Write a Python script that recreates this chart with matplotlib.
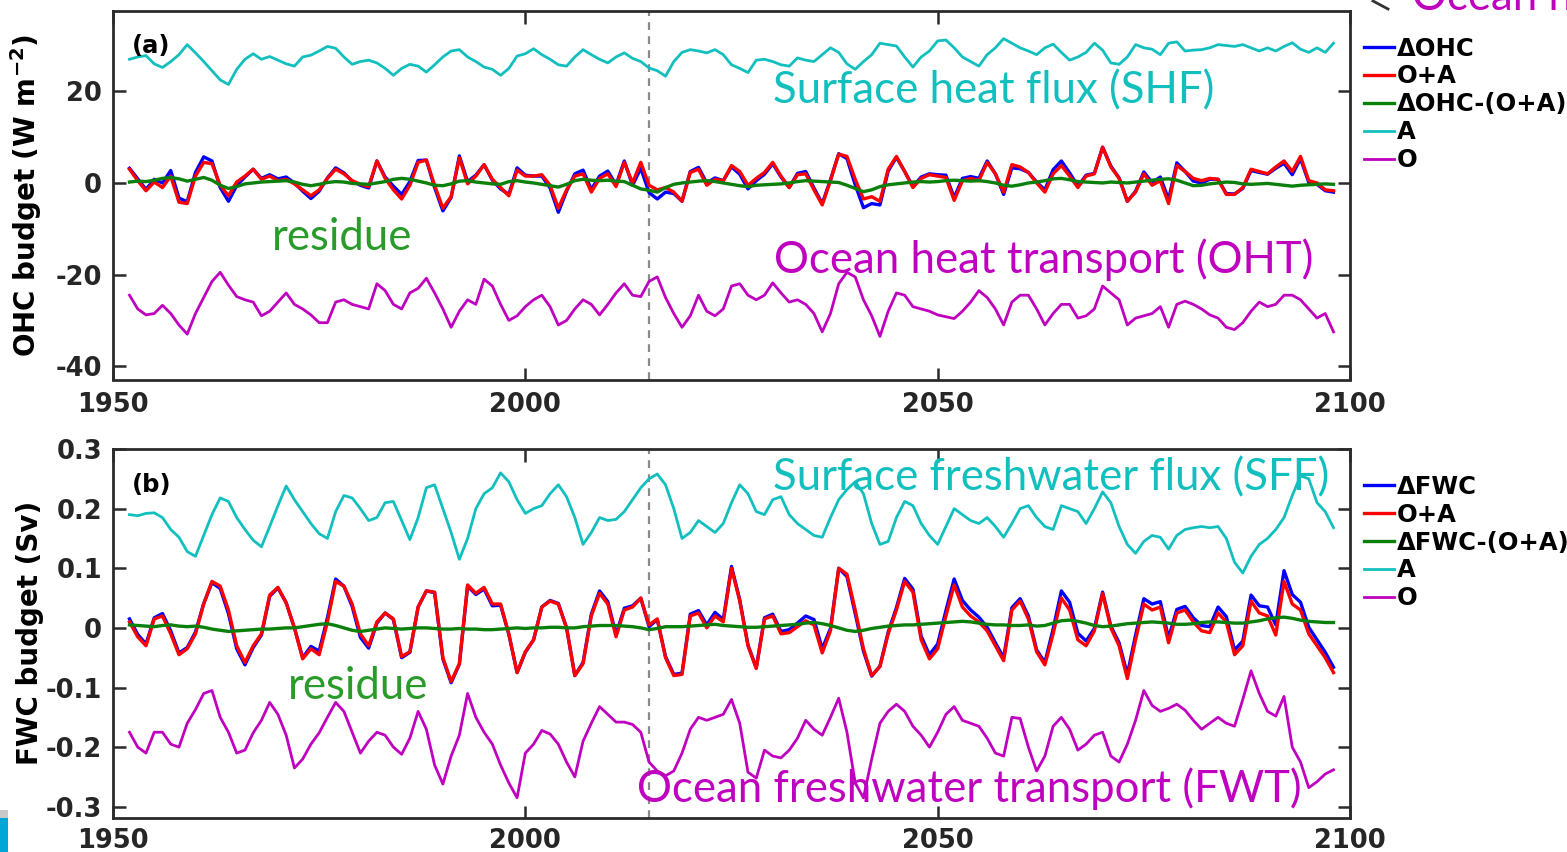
import numpy as np
import matplotlib
matplotlib.use('Agg')
import matplotlib.pyplot as plt
from matplotlib.lines import Line2D
from matplotlib.patches import Rectangle

# ---------------- data (annual values, first year = FIRST_YEAR) ----------------
FIRST_YEAR = 1952
XTICKS = [1950, 2000, 2050, 2100]
SPLIT_YEAR = 2015

# (a) OHC budget, W m-2
A_OHC = [
    27.0, 27.5, 27.8, 26.0, 25.2, 26.5, 28.0, 30.2, 28.4, 26.5,
    24.5, 22.5, 21.5, 24.8, 27.0, 28.2, 27.0, 27.6, 26.8, 26.0,
    25.5, 27.5, 27.9, 28.8, 29.8, 29.4, 27.5, 25.9, 26.5, 26.8,
    26.2, 25.0, 23.5, 25.0, 25.9, 25.5, 24.2, 25.8, 27.5, 28.8,
    29.1, 27.5, 26.5, 25.3, 24.8, 23.5, 25.0, 27.7, 28.2, 29.3,
    28.0, 27.0, 25.8, 25.5, 27.5, 29.1, 28.0, 27.0, 26.2, 27.5,
    28.4, 27.2, 26.5, 25.1, 24.5, 23.3, 26.5, 28.5, 29.1, 28.8,
    28.4, 29.1, 28.0, 25.8, 25.0, 24.1, 26.8, 27.0, 26.5, 25.8,
    25.5, 27.3, 26.8, 26.5, 28.0, 29.5, 28.5, 26.0, 24.8, 26.5,
    28.0, 30.5, 30.2, 29.9, 27.5, 25.3, 27.5, 28.8, 31.0, 31.2,
    29.5, 27.5, 26.5, 25.5, 28.0, 29.5, 31.5, 30.5, 29.5, 28.8,
    28.0, 29.5, 30.3, 28.5, 26.8, 27.5, 28.5, 30.5, 29.0, 26.2,
    25.9, 27.5, 30.2, 29.5, 29.2, 28.0, 30.5, 30.8, 28.8, 29.0,
    29.1, 29.5, 30.2, 30.0, 29.8, 30.2, 29.5, 28.8, 29.5, 28.8,
    29.8, 30.6, 29.2, 28.5, 29.5, 28.5, 30.5,
]
O_OHC = [
    -24.5, -27.5, -28.8, -28.5, -26.7, -28.5, -31.0, -33.0, -28.5, -25.0,
    -21.5, -19.5, -22.3, -24.8, -25.5, -26.0, -29.0, -28.0, -26.0, -24.0,
    -26.5, -27.5, -28.8, -30.5, -30.5, -26.0, -25.5, -26.5, -27.0, -27.5,
    -22.0, -23.5, -26.5, -27.5, -24.0, -23.0, -20.8, -24.0, -27.5, -31.5,
    -28.0, -25.5, -26.5, -21.0, -22.5, -26.5, -30.0, -29.0, -27.0, -25.5,
    -24.5, -27.0, -31.0, -30.0, -27.5, -25.5, -26.5, -28.8, -26.5, -24.0,
    -22.0, -24.5, -24.8, -21.5, -20.5, -25.0, -28.5, -31.5, -29.0, -24.5,
    -28.0, -29.0, -27.5, -22.5, -22.0, -24.5, -25.5, -24.5, -21.8, -24.0,
    -26.0, -25.5, -26.5, -28.5, -32.5, -28.5, -22.0, -19.5, -20.5, -25.5,
    -29.0, -33.5, -28.0, -24.0, -24.5, -27.0, -27.5, -28.0, -28.8, -29.2,
    -29.6, -28.0, -26.0, -23.5, -25.0, -27.5, -31.0, -26.0, -24.5, -24.5,
    -27.5, -31.0, -28.5, -26.5, -26.5, -29.5, -29.0, -27.5, -22.5, -24.0,
    -25.5, -31.0, -29.5, -29.0, -28.5, -27.0, -31.5, -26.5, -25.8, -26.5,
    -27.5, -28.8, -29.5, -31.5, -32.0, -30.5, -28.0, -26.0, -27.0, -26.5,
    -24.5, -24.5, -25.5, -27.5, -29.5, -28.5, -32.5,
]
OA_OHC = [
    3.0, 0.5, -1.7, 0.2, -1.0, 1.5, -4.2, -4.5, 1.5, 4.5,
    4.2, -0.5, -2.8, 0.2, 1.5, 3.0, 0.8, 1.5, 0.5, 0.8,
    -0.2, -1.5, -2.8, -1.5, 1.0, 3.0, 2.0, 0.5, -0.3, -0.8,
    4.8, 1.0, -1.5, -3.5, -0.5, 4.5, 5.0, -0.5, -5.5, -3.0,
    5.5, -0.2, 1.5, 4.0, 0.8, -1.0, -2.8, 2.8, 1.5, 1.5,
    1.8, -0.5, -5.5, -1.5, 1.5, 2.0, -2.0, 1.0, 2.0, -0.8,
    4.5, 0.0, 4.5, -0.5, -1.5, -1.0, -2.0, -4.0, 2.3, 3.0,
    -0.5, 0.8, 0.5, 3.8, 2.5, -0.5, 1.0, 2.3, 4.5, 1.5,
    -1.0, 1.8, 2.0, -1.5, -4.8, 0.5, 6.3, 5.8, 0.8, -3.5,
    -3.0, -4.0, 3.0, 5.8, 2.5, -1.0, 1.0, 1.8, 1.5, 1.2,
    -3.8, 0.5, 1.0, 0.5, 4.5, 2.0, -2.0, 4.0, 3.5, 2.3,
    0.0, -2.0, 2.0, 3.8, 1.5, -1.0, 1.5, 2.0, 7.8, 3.5,
    1.0, -4.0, -2.0, 2.0, -0.5, 0.5, -4.5, 3.8, 2.5, 1.0,
    0.5, 1.0, 0.8, -2.5, -2.5, -1.0, 3.0, 2.5, 2.0, 3.5,
    4.8, 2.5, 5.8, 0.5, 0.0, -1.5, -1.7,
]
RES_OHC = [
    0.2, 0.4, 0.3, 0.6, 1.0, 1.2, 0.9, 0.4, 0.8, 1.2, 0.6, -0.5, -1.2, -0.8,
    -0.2, 0.0, 0.2, 0.3, 0.4, 0.5, 0.2, -0.3, -0.6, -0.3, 0.1, 0.3, 0.2, -0.1, -0.2,
    -0.3, 0.0, 0.3, 0.8, 1.0, 0.8, 0.4, 0.0, -0.5, -0.6, -0.2, 0.4, 0.5, 0.2, 0.0,
    -0.2, -0.3, 0.3, 0.5, 0.2, 0.0, -0.3, -0.6, -0.9, -0.3, 0.5, 0.8, 0.6, 0.5, 0.6,
    0.4, 0.3, -0.5, -1.3, -1.6, -2.0, -1.0, -0.3, 0.0, 0.2, 0.4, 0.5, 0.3, 0.0, -0.3,
    -0.6, -0.8, -0.5, -0.4, -0.3, -0.2, 0.0, 0.3, 0.5, 0.4, 0.3, 0.2, 0.1, -0.5, -1.2,
    -1.9, -1.5, -0.8, -0.4, -0.2, 0.0, 0.2, 0.3, 0.2, 0.3, 0.5, 0.6, 0.5, 0.4, 0.5,
    0.3, 0.0, -0.5, -0.7, -0.4, 0.0, 0.2, 0.5, 0.9, 1.0, 0.7, 0.3, 0.2, 0.1, 0.0,
    0.2, 0.1, 0.0, 0.2, 0.4, 0.6, 0.8, 0.9, 0.6, 0.0, -0.6, -0.5, -0.2, 0.0, 0.2,
    0.1, -0.2, -0.3, -0.2, -0.1, -0.3, -0.5, -0.7, -0.5, -0.4, -0.3, -0.2, -0.3,
]
DOHC = [
    3.2, 0.9, -1.4, 0.8, 0.0, 2.7, -3.3, -4.1, 2.3, 5.7,
    4.8, -1.0, -4.0, -0.6, 1.3, 3.0, 1.0, 1.8, 0.9, 1.3,
    0.0, -1.8, -3.4, -1.8, 1.1, 3.3, 2.2, 0.4, -0.5, -1.1,
    4.8, 1.3, -0.7, -2.5, 0.3, 4.9, 5.0, -1.0, -6.1, -3.2,
    5.9, 0.3, 1.7, 4.0, 0.6, -1.3, -2.5, 3.3, 1.7, 1.5,
    1.5, -1.1, -6.4, -1.8, 2.0, 2.8, -1.4, 1.5, 2.6, -0.4,
    4.8, -0.5, 3.2, -2.1, -3.5, -2.0, -2.3, -4.0, 2.5, 3.4,
    0.0, 1.1, 0.5, 3.5, 1.9, -1.3, 0.5, 1.9, 4.2, 1.3,
    -1.0, 2.1, 2.5, -1.1, -4.5, 0.7, 6.4, 5.3, -0.4, -5.4,
    -4.5, -4.8, 2.6, 5.6, 2.5, -0.8, 1.3, 2.0, 1.8, 1.7,
    -3.2, 1.0, 1.4, 1.0, 4.8, 2.0, -2.5, 3.3, 3.1, 2.3,
    0.2, -1.5, 2.9, 4.8, 2.2, -0.7, 1.7, 2.1, 7.8, 3.7,
    1.1, -4.0, -1.8, 2.4, 0.1, 1.3, -3.6, 4.4, 2.5, 0.4,
    0.0, 0.8, 0.8, -2.3, -2.4, -1.2, 2.7, 2.3, 1.9, 3.2,
    4.3, 1.8, 5.3, 0.1, -0.3, -1.7, -2.0,
]

# (b) FWC budget, Sv
A_FWC = [
    0.190, 0.188, 0.192, 0.193, 0.185, 0.165, 0.152, 0.128, 0.120, 0.155,
    0.190, 0.218, 0.212, 0.185, 0.165, 0.147, 0.136, 0.170, 0.205, 0.238,
    0.215, 0.195, 0.175, 0.158, 0.150, 0.195, 0.222, 0.218, 0.200, 0.180,
    0.185, 0.210, 0.212, 0.180, 0.148, 0.185, 0.235, 0.240, 0.200, 0.160,
    0.115, 0.150, 0.200, 0.225, 0.235, 0.260, 0.245, 0.215, 0.192, 0.200,
    0.205, 0.225, 0.240, 0.220, 0.185, 0.140, 0.160, 0.185, 0.180, 0.182,
    0.195, 0.215, 0.235, 0.250, 0.258, 0.240, 0.200, 0.150, 0.160, 0.180,
    0.170, 0.160, 0.175, 0.210, 0.240, 0.225, 0.195, 0.190, 0.215, 0.220,
    0.190, 0.175, 0.165, 0.155, 0.152, 0.185, 0.215, 0.232, 0.245, 0.225,
    0.175, 0.140, 0.145, 0.185, 0.212, 0.205, 0.175, 0.155, 0.140, 0.170,
    0.200, 0.190, 0.180, 0.175, 0.185, 0.170, 0.152, 0.175, 0.200, 0.205,
    0.185, 0.170, 0.165, 0.205, 0.200, 0.195, 0.175, 0.200, 0.228, 0.210,
    0.170, 0.140, 0.125, 0.145, 0.155, 0.152, 0.132, 0.155, 0.165, 0.168,
    0.170, 0.168, 0.170, 0.150, 0.110, 0.092, 0.120, 0.140, 0.150, 0.165,
    0.185, 0.222, 0.255, 0.250, 0.210, 0.195, 0.168,
]
O_FWC = [
    -0.175, -0.200, -0.210, -0.175, -0.175, -0.195, -0.200, -0.160, -0.137, -0.110,
    -0.105, -0.150, -0.175, -0.210, -0.205, -0.176, -0.155, -0.125, -0.145, -0.180,
    -0.235, -0.220, -0.195, -0.176, -0.150, -0.125, -0.140, -0.175, -0.210, -0.190,
    -0.175, -0.180, -0.200, -0.212, -0.185, -0.140, -0.170, -0.230, -0.262, -0.215,
    -0.180, -0.110, -0.150, -0.175, -0.195, -0.230, -0.260, -0.285, -0.210, -0.195,
    -0.172, -0.178, -0.195, -0.225, -0.250, -0.190, -0.160, -0.132, -0.145, -0.158,
    -0.158, -0.162, -0.175, -0.225, -0.240, -0.248, -0.240, -0.210, -0.170, -0.150,
    -0.155, -0.150, -0.145, -0.120, -0.160, -0.242, -0.252, -0.205, -0.215, -0.218,
    -0.205, -0.185, -0.155, -0.170, -0.180, -0.150, -0.118, -0.175, -0.260, -0.285,
    -0.220, -0.160, -0.140, -0.128, -0.140, -0.165, -0.180, -0.200, -0.175, -0.145,
    -0.132, -0.155, -0.160, -0.165, -0.185, -0.210, -0.215, -0.150, -0.152, -0.200,
    -0.240, -0.215, -0.165, -0.150, -0.170, -0.205, -0.195, -0.180, -0.175, -0.215,
    -0.225, -0.195, -0.155, -0.105, -0.130, -0.140, -0.135, -0.128, -0.138, -0.155,
    -0.170, -0.160, -0.150, -0.160, -0.165, -0.120, -0.072, -0.110, -0.140, -0.148,
    -0.115, -0.200, -0.225, -0.268, -0.258, -0.245, -0.238,
]
OA_FWC = [
    0.010, -0.015, -0.030, 0.015, 0.020, -0.010, -0.045, -0.035, -0.010, 0.040,
    0.078, 0.070, 0.030, -0.030, -0.058, -0.030, -0.010, 0.055, 0.068, 0.042,
    0.000, -0.052, -0.035, -0.045, 0.010, 0.078, 0.070, 0.040, -0.010, -0.030,
    0.010, 0.025, 0.015, -0.048, -0.040, 0.035, 0.062, 0.060, -0.050, -0.090,
    -0.060, 0.072, 0.058, 0.068, 0.040, 0.040, -0.010, -0.075, -0.040, -0.020,
    0.035, 0.045, 0.040, 0.000, -0.080, -0.060, 0.020, 0.058, 0.040, -0.015,
    0.030, 0.035, 0.050, 0.005, 0.015, -0.050, -0.080, -0.078, 0.020, 0.025,
    0.000, 0.020, 0.010, 0.100, 0.045, -0.030, -0.068, 0.015, 0.020, -0.010,
    -0.008, 0.002, 0.012, 0.005, -0.042, -0.005, 0.100, 0.090, 0.030, -0.035,
    -0.080, -0.065, -0.010, 0.030, 0.078, 0.060, -0.020, -0.052, -0.035, 0.020,
    0.072, 0.035, 0.020, 0.010, -0.005, -0.030, -0.055, 0.030, 0.045, 0.015,
    -0.040, -0.062, -0.010, 0.050, 0.030, -0.020, -0.030, -0.005, 0.058, 0.000,
    -0.030, -0.085, -0.020, 0.040, 0.030, 0.035, -0.025, 0.025, 0.030, 0.010,
    -0.005, -0.008, 0.025, 0.010, -0.045, -0.030, 0.045, 0.025, 0.020, -0.012,
    0.078, 0.040, 0.030, -0.010, -0.030, -0.050, -0.075,
]
RES_FWC = [
    0.005, 0.004, 0.003, 0.002, 0.004, 0.005, 0.003, 0.002, 0.003, 0.001, -0.002, -0.004, -0.006, -0.005,
    -0.004, -0.003, -0.002, -0.002, -0.001, 0.000, 0.000, 0.002, 0.004, 0.006, 0.007, 0.004, 0.000, -0.004, -0.006,
    -0.004, -0.002, 0.000, -0.001, -0.002, -0.001, 0.000, 0.000, -0.001, -0.002, -0.002, -0.001, -0.002, -0.002, -0.003,
    -0.003, -0.002, -0.001, 0.000, -0.001, 0.000, 0.000, 0.001, 0.001, 0.000, 0.000, 0.002, 0.003, 0.004, 0.004,
    0.004, 0.003, 0.002, 0.000, -0.003, -0.001, 0.002, 0.002, 0.002, 0.003, 0.004, 0.005, 0.006, 0.004, 0.003,
    0.002, 0.001, 0.001, 0.002, 0.003, 0.004, 0.005, 0.006, 0.008, 0.009, 0.007, 0.004, 0.000, -0.004, -0.006,
    -0.004, -0.001, 0.001, 0.003, 0.004, 0.005, 0.005, 0.006, 0.007, 0.008, 0.009, 0.010, 0.011, 0.010, 0.008,
    0.006, 0.005, 0.005, 0.004, 0.004, 0.005, 0.003, 0.004, 0.008, 0.012, 0.013, 0.011, 0.008, 0.004, 0.002,
    0.003, 0.005, 0.007, 0.008, 0.009, 0.010, 0.009, 0.008, 0.006, 0.006, 0.007, 0.009, 0.010, 0.010, 0.009,
    0.008, 0.008, 0.010, 0.012, 0.015, 0.017, 0.018, 0.016, 0.013, 0.011, 0.010, 0.009, 0.009,
]
DFWC = [
    0.015, -0.011, -0.027, 0.017, 0.024, -0.005, -0.042, -0.033, -0.007, 0.041,
    0.076, 0.066, 0.024, -0.035, -0.062, -0.033, -0.012, 0.053, 0.067, 0.042,
    0.000, -0.050, -0.031, -0.039, 0.017, 0.082, 0.070, 0.036, -0.016, -0.034,
    0.008, 0.025, 0.014, -0.050, -0.041, 0.035, 0.062, 0.059, -0.052, -0.092,
    -0.061, 0.070, 0.056, 0.065, 0.037, 0.038, -0.011, -0.075, -0.041, -0.020,
    0.035, 0.046, 0.041, 0.000, -0.080, -0.058, 0.023, 0.062, 0.044, -0.011,
    0.033, 0.037, 0.050, 0.002, 0.014, -0.048, -0.078, -0.076, 0.023, 0.029,
    0.005, 0.026, 0.014, 0.103, 0.047, -0.029, -0.067, 0.017, 0.023, -0.006,
    -0.003, 0.008, 0.020, 0.014, -0.035, -0.001, 0.100, 0.086, 0.024, -0.039,
    -0.081, -0.064, -0.007, 0.034, 0.083, 0.065, -0.014, -0.045, -0.027, 0.029,
    0.082, 0.046, 0.030, 0.018, 0.001, -0.025, -0.050, 0.034, 0.049, 0.020,
    -0.037, -0.058, -0.002, 0.062, 0.043, -0.009, -0.022, -0.001, 0.060, 0.003,
    -0.025, -0.078, -0.012, 0.049, 0.040, 0.044, -0.017, 0.031, 0.036, 0.017,
    0.004, 0.002, 0.035, 0.019, -0.037, -0.022, 0.055, 0.037, 0.035, 0.005,
    0.096, 0.056, 0.043, 0.001, -0.020, -0.041, -0.066,
]

LEG_A = ['\u0394OHC', 'O+A', '\u0394OHC-(O+A)', 'A', 'O']
LEG_B = ['\u0394FWC', 'O+A', '\u0394FWC-(O+A)', 'A', 'O']
YTICKS_A = [-40, -20, 0, 20]
YTICKS_B = [-0.3, -0.2, -0.1, 0, 0.1, 0.2, 0.3]

# ---------------- style ----------------
plt.rcParams['font.family'] = ['DejaVu Sans']
plt.rcParams['font.weight'] = 'bold'
plt.rcParams['axes.unicode_minus'] = False
plt.rcParams['mathtext.default'] = 'bf'

C_BLUE = '#0000ff'
C_RED = '#ff0000'
C_GREEN = '#0a7f0a'
C_CYAN = '#12bfbf'
C_MAG = '#bf00bf'
C_GREEN_TXT = '#2a9a2a'
ANN_FONT = ['Lato', 'DejaVu Sans']
ANN_SIZE = 31.5

W, H = 1567, 852
fig = plt.figure(figsize=(W / 100, H / 100), dpi=100)


def rect(l, t, r, b):
    return [l / W, 1 - b / H, (r - l) / W, (b - t) / H]


ax1 = fig.add_axes(rect(113, 10.7, 1350, 379.5))
ax2 = fig.add_axes(rect(113, 449, 1350, 817.5))


def years(series):
    return FIRST_YEAR + np.arange(len(series))


def draw(ax, d, oa, res, a, o, labels):
    ax.plot(years(d), d, color=C_BLUE, lw=2.4, label=labels[0])
    ax.plot(years(oa), oa, color=C_RED, lw=2.4, label=labels[1])
    ax.plot(years(res), res, color=C_GREEN, lw=2.4, label=labels[2])
    ax.plot(years(a), a, color=C_CYAN, lw=2.0, label=labels[3])
    ax.plot(years(o), o, color=C_MAG, lw=2.0, label=labels[4])
    ax.axvline(SPLIT_YEAR, color='#8a8a8a', lw=1.6, ls=(0, (3.5, 2.8)), zorder=0)
    ax.set_xlim(XTICKS[0], XTICKS[-1])
    ax.set_xticks(XTICKS)
    for s in ax.spines.values():
        s.set_linewidth(2.0)
        s.set_color('#2b2b2b')
    ax.tick_params(direction='in', length=9, width=1.8, top=True, right=True,
                   labelsize=18.5, colors='#2b2b2b', labelcolor='#262626')
    ax.tick_params(axis='y', pad=8)
    leg = ax.legend(loc='upper left', bbox_to_anchor=(1.011, 0.93), frameon=False,
                    fontsize=17.5, handlelength=1.25, handletextpad=0.12,
                    labelspacing=0.16, borderaxespad=0, borderpad=0)
    return leg


draw(ax1, DOHC, OA_OHC, RES_OHC, A_OHC, O_OHC, LEG_A)
ax1.tick_params(axis='x', pad=9)
ax1.set_ylim(-42.9, 37.6)
ax1.set_yticks(YTICKS_A)
ax1.set_yticklabels([f'{v:g}' for v in YTICKS_A])
ax1.set_ylabel('OHC budget (W m$^{-2}$)', fontsize=20, fontweight='bold')

draw(ax2, DFWC, OA_FWC, RES_FWC, A_FWC, O_FWC, LEG_B)
ax2.tick_params(axis='x', pad=7.5)
ax2.set_ylim(-0.318, 0.297)
ax2.set_yticks(YTICKS_B)
ax2.set_yticklabels([f'{v:g}' for v in YTICKS_B])
ax2.set_ylabel('FWC budget (Sv)', fontsize=20, fontweight='bold')

for ax in (ax1, ax2):
    ax.yaxis.set_label_coords(-0.056, 0.5)

ax1.text(0.015, 0.904, '(a)', transform=ax1.transAxes, fontsize=17.5, fontweight='bold',
         color='black', va='center')
ax2.text(0.015, 0.902, '(b)', transform=ax2.transAxes, fontsize=17.5, fontweight='bold',
         color='black', va='center')

ann = dict(fontsize=ANN_SIZE, fontweight='normal', family=ANN_FONT, va='baseline', ha='left')
ax1.text(2030.0, 17.4, 'Surface heat flux (SHF)', color=C_CYAN, **ann)
ax1.text(1969.3, -14.7, 'residue', color=C_GREEN_TXT, **ann)
ax1.text(2030.1, -19.7, 'Ocean heat transport (OHT)', color=C_MAG, **ann)
ax2.text(2030.0, 0.231, 'Surface freshwater flux (SFF)', color=C_CYAN, **ann)
ax2.text(1971.2, -0.119, 'residue', color=C_GREEN_TXT, **ann)
ax2.text(2013.6, -0.292, 'Ocean freshwater transport (FWT)', color=C_MAG, **ann)

# clipped fragment of a slide annotation at the top-right corner
fig.text(1412 / W, 1 - 10 / H, 'Ocean h', color=C_MAG, fontsize=ANN_SIZE,
         fontweight='normal', family=ANN_FONT, va='baseline', ha='left')
fig.add_artist(Line2D([1373 / W, 1388 / W], [1 - 1 / H, 1 - 9 / H],
                      transform=fig.transFigure, color='#333333', lw=2))
# slide edge artefact bottom-left
fig.add_artist(Rectangle((0, 0), 8 / W, 34 / H, transform=fig.transFigure,
                         color='#00a6d6', lw=0))
fig.add_artist(Rectangle((0, 34 / H), 8 / W, 8 / H, transform=fig.transFigure,
                         color='#c8c8c8', lw=0))

fig.savefig('out.png', dpi=100)
